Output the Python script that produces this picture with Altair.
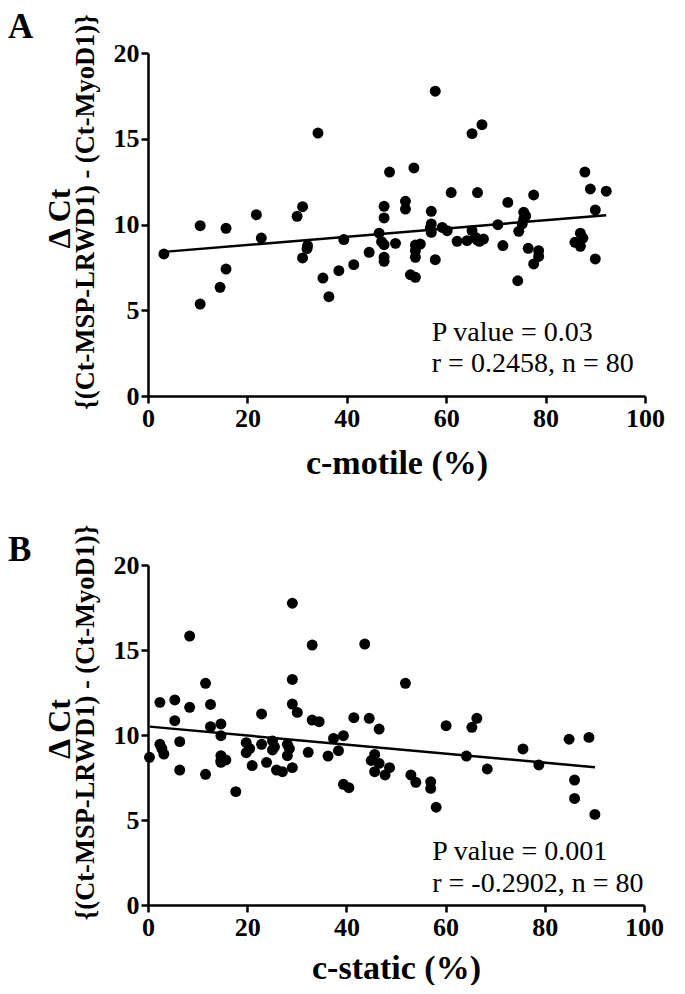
import altair as alt
import pandas as pd

# ---------------- Panel A: c-motile ----------------
motile_x = [3.2, 10.5, 10.5, 15.7, 15.7, 14.5, 21.8, 22.8, 34.2, 30.0,
            31.1, 32.1, 31.1, 39.4, 35.2, 36.4, 38.4, 41.4, 44.5, 46.5,
            47.5, 49.8, 47.5, 47.5, 47.5, 47.5, 48.6, 51.8, 51.8, 52.8,
            53.5, 57.8, 65.2, 67.2, 61.0, 66.3, 72.4, 77.6, 87.9, 89.0,
            92.2, 90.0, 57.0, 57.0, 57.0, 59.2, 60.2, 65.2, 62.2, 64.2,
            65.9, 66.7, 67.5, 70.4, 71.4, 75.6, 75.6, 75.3, 74.6, 74.4,
            76.5, 78.6, 78.6, 77.6, 87.0, 85.9, 87.0, 90.0, 53.8, 54.8,
            53.8, 53.8, 53.8, 57.8, 66.2, 56.8, 76.0, 87.5, 47.0, 32.0]
motile_y = [8.28, 9.93, 5.36, 9.78, 7.40, 6.34, 10.57, 9.21, 15.33, 10.48,
            11.04, 8.77, 8.05, 9.12, 6.88, 5.79, 7.31, 7.66, 8.38, 9.49,
            8.82, 8.90, 8.09, 7.85, 10.38, 11.06, 13.06, 11.35, 10.90, 7.07,
            13.30, 17.77, 15.30, 15.82, 11.86, 11.86, 11.29, 11.72, 13.06, 12.07,
            11.94, 10.85, 10.77, 10.03, 9.54, 9.83, 9.64, 9.64, 9.02, 9.06,
            9.25, 9.02, 9.15, 9.99, 8.77, 10.71, 10.32, 10.03, 9.60, 6.72,
            8.61, 8.47, 8.14, 7.70, 9.49, 8.96, 8.73, 7.99, 8.80, 8.86,
            8.47, 8.09, 6.92, 7.95, 9.10, 9.80, 10.50, 9.20, 9.00, 8.60]

# ---------------- Panel B: c-static ----------------
static_x = [0.3, 2.4, 2.4, 3.2, 5.4, 5.4, 6.4, 6.4, 8.4, 8.4,
            11.6, 12.6, 12.6, 11.6, 14.7, 14.7, 14.7, 15.7, 14.7, 17.7,
            19.8, 19.8, 21.0, 22.9, 22.9, 23.9, 25.1, 25.1, 25.9, 27.1,
            28.1, 28.1, 29.1, 29.1, 29.1, 29.1, 30.1, 32.3, 33.1, 33.1,
            34.5, 36.3, 37.4, 38.4, 39.4, 39.4, 40.5, 41.5, 43.7, 44.6,
            46.6, 45.7, 46.6, 45.7, 47.8, 48.7, 51.9, 53.0, 54.0, 57.0,
            57.0, 58.1, 60.1, 64.2, 65.3, 66.3, 68.4, 75.6, 78.8, 84.9,
            88.9, 86.0, 86.0, 90.1, 14.7, 25.5, 28.5, 45.0, 2.8, 20.5]
static_y = [8.69, 11.92, 9.45, 8.88, 12.06, 10.84, 9.61, 7.94, 15.82, 11.63,
            13.04, 11.80, 10.49, 7.69, 10.65, 9.96, 8.78, 8.53, 8.39, 6.67,
            9.55, 8.96, 8.20, 11.24, 9.45, 8.39, 9.65, 9.12, 7.94, 7.84,
            9.45, 8.78, 8.08, 17.75, 13.27, 11.82, 11.33, 8.98, 15.29, 10.88,
            10.78, 8.76, 9.80, 9.08, 9.96, 7.10, 6.90, 11.02, 15.35, 10.98,
            10.35, 8.86, 8.33, 7.84, 7.65, 8.08, 13.04, 7.65, 7.22, 7.25,
            6.86, 5.75, 10.55, 8.76, 10.45, 10.98, 8.00, 9.18, 8.24, 9.75,
            9.86, 7.35, 6.27, 5.33, 8.50, 9.30, 9.20, 8.50, 9.20, 9.20]

panel_letters = ["A", "B"]
x_titles = ["c-motile (%)", "c-static (%)"]
stat_lines_a = ["P value = 0.03", "r = 0.2458, n = 80"]
stat_lines_b = ["P value = 0.001", "r = -0.2902, n = 80"]
stat_x = [57.1, 57.3]
stat_y_a = [3.2, 1.4]
stat_y_b = [2.65, 0.76]

y_title_main = "\u0394 Ct"
y_title_sub = "{(Ct-MSP-LRWD1) - (Ct-MyoD1)}"

FONT = "Liberation Serif"


def panel(xs, ys, letter, xtitle, stat_lines, sx, sy_list, w, h, letter_y,
          xtitle_pad):
    df = pd.DataFrame({"x": xs, "y": ys})
    xscale = alt.Scale(domain=[0, 100], nice=False)
    yscale = alt.Scale(domain=[0, 20], nice=False)
    xaxis = alt.Axis(values=[0, 20, 40, 60, 80, 100], title=xtitle,
                     titleFontSize=34, titlePadding=xtitle_pad)
    yaxis = alt.Axis(values=[0, 5, 10, 15, 20], title=y_title_sub,
                     titleFontSize=26.5, titlePadding=14, titleY=h / 2 - 13)
    base = alt.Chart(df)
    pts = base.mark_point(filled=True, color="black", size=120, opacity=1).encode(
        x=alt.X("x:Q", scale=xscale, axis=xaxis),
        y=alt.Y("y:Q", scale=yscale, axis=yaxis),
    )
    line = base.transform_regression("x", "y").mark_line(
        color="black", strokeWidth=2.5).encode(
        x=alt.X("x:Q", scale=xscale),
        y=alt.Y("y:Q", scale=yscale),
    )
    sdf = pd.DataFrame({"t": stat_lines, "x": [sx, sx], "y": sy_list})
    stats = alt.Chart(sdf).mark_text(
        align="left", baseline="alphabetic", font=FONT, fontSize=28,
        color="black").encode(
        x=alt.X("x:Q", scale=xscale), y=alt.Y("y:Q", scale=yscale), text="t:N")
    ydf = pd.DataFrame({"t": [y_title_main]})
    ytitle = alt.Chart(ydf).mark_text(
        angle=270, align="center", baseline="middle", font=FONT, fontSize=32,
        fontWeight="bold", color="black").encode(
        x=alt.value(-88), y=alt.value(h / 2 - 6), text="t:N")
    ldf = pd.DataFrame({"t": [letter]})
    ltext = alt.Chart(ldf).mark_text(
        align="left", baseline="alphabetic", font=FONT, fontSize=35,
        fontWeight="bold", color="black").encode(
        x=alt.value(-140), y=alt.value(letter_y), text="t:N")
    return alt.layer(pts, line, stats, ytitle, ltext).properties(width=w, height=h)


pa = panel(motile_x, motile_y, panel_letters[0], x_titles[0], stat_lines_a,
           stat_x[0], stat_y_a, 497, 343, -15, 15)
pb = panel(static_x, static_y, panel_letters[1], x_titles[1], stat_lines_b,
           stat_x[1], stat_y_b, 496, 340, -4, 11)

chart = alt.vconcat(pa, pb, spacing=44).properties(
    background="white", padding={"left": 0, "top": 2, "right": 5, "bottom": 0}
).configure_view(stroke=None).configure_axis(
    grid=False, domainColor="black", domainWidth=2.5, tickColor="black",
    tickWidth=2.5, tickSize=7, labelFont=FONT, labelFontSize=26,
    labelFontWeight="bold", labelColor="black", labelPadding=2,
    titleFont=FONT, titleFontWeight="bold", titleColor="black",
    labelFlush=False, labelOverlap=False,
)

chart.save("out.html", embed_options={"renderer": "svg", "actions": False})
